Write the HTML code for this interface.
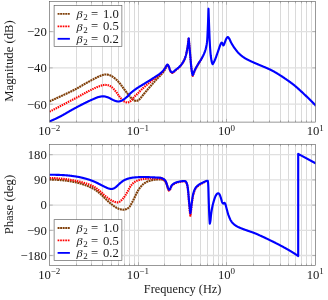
<!DOCTYPE html>
<html><head><meta charset="utf-8"><title>Bode plot</title>
<style>html,body{margin:0;padding:0;background:#fff;}body{width:328px;height:300px;position:relative;overflow:hidden;font-family:"Liberation Serif",serif;}svg{will-change:transform;}text{fill:#1a1a1a;}</style>
</head><body>
<svg width="328" height="300" viewBox="0 0 328 300" style="position:absolute;left:0;top:0;font-family:'Liberation Serif',serif">
<rect x="0" y="0" width="328" height="300" fill="#fff"/>
<path d="M76.50 1.50V122.10M91.50 1.50V122.10M102.50 1.50V122.10M111.50 1.50V122.10M118.50 1.50V122.10M124.50 1.50V122.10M129.50 1.50V122.10M134.50 1.50V122.10M164.50 1.50V122.10M180.50 1.50V122.10M191.50 1.50V122.10M200.50 1.50V122.10M207.50 1.50V122.10M213.50 1.50V122.10M218.50 1.50V122.10M222.50 1.50V122.10M253.50 1.50V122.10M269.50 1.50V122.10M280.50 1.50V122.10M288.50 1.50V122.10M295.50 1.50V122.10M301.50 1.50V122.10M306.50 1.50V122.10M311.50 1.50V122.10M138.50 1.50V122.10M226.50 1.50V122.10" stroke="#d6d6d6" stroke-width="0.9" fill="none"/>
<path d="M49.50 31.60H315.50M49.50 67.90H315.50M49.50 104.20H315.50" stroke="#e0e0e0" stroke-width="1.3" fill="none"/>
<path d="M49.50 31.60h3.2M315.50 31.60h-3.2M49.50 67.90h3.2M315.50 67.90h-3.2M49.50 104.20h3.2M315.50 104.20h-3.2" stroke="#808080" stroke-width="0.5" fill="none"/>
<path d="M138.50 122.10v-3.2M138.50 1.50v3.2M226.50 122.10v-3.2M226.50 1.50v3.2M76.50 122.10v-1.8M76.50 1.50v1.8M91.50 122.10v-1.8M91.50 1.50v1.8M102.50 122.10v-1.8M102.50 1.50v1.8M111.50 122.10v-1.8M111.50 1.50v1.8M118.50 122.10v-1.8M118.50 1.50v1.8M124.50 122.10v-1.8M124.50 1.50v1.8M129.50 122.10v-1.8M129.50 1.50v1.8M134.50 122.10v-1.8M134.50 1.50v1.8M164.50 122.10v-1.8M164.50 1.50v1.8M180.50 122.10v-1.8M180.50 1.50v1.8M191.50 122.10v-1.8M191.50 1.50v1.8M200.50 122.10v-1.8M200.50 1.50v1.8M207.50 122.10v-1.8M207.50 1.50v1.8M213.50 122.10v-1.8M213.50 1.50v1.8M218.50 122.10v-1.8M218.50 1.50v1.8M222.50 122.10v-1.8M222.50 1.50v1.8M253.50 122.10v-1.8M253.50 1.50v1.8M269.50 122.10v-1.8M269.50 1.50v1.8M280.50 122.10v-1.8M280.50 1.50v1.8M288.50 122.10v-1.8M288.50 1.50v1.8M295.50 122.10v-1.8M295.50 1.50v1.8M301.50 122.10v-1.8M301.50 1.50v1.8M306.50 122.10v-1.8M306.50 1.50v1.8M311.50 122.10v-1.8M311.50 1.50v1.8" stroke="#808080" stroke-width="0.5" fill="none"/>
<path d="M76.50 144.50V265.40M91.50 144.50V265.40M102.50 144.50V265.40M111.50 144.50V265.40M118.50 144.50V265.40M124.50 144.50V265.40M129.50 144.50V265.40M134.50 144.50V265.40M164.50 144.50V265.40M180.50 144.50V265.40M191.50 144.50V265.40M200.50 144.50V265.40M207.50 144.50V265.40M213.50 144.50V265.40M218.50 144.50V265.40M222.50 144.50V265.40M253.50 144.50V265.40M269.50 144.50V265.40M280.50 144.50V265.40M288.50 144.50V265.40M295.50 144.50V265.40M301.50 144.50V265.40M306.50 144.50V265.40M311.50 144.50V265.40M138.50 144.50V265.40M226.50 144.50V265.40" stroke="#d6d6d6" stroke-width="0.9" fill="none"/>
<path d="M49.50 154.70H315.50M49.50 179.90H315.50M49.50 205.10H315.50M49.50 230.30H315.50M49.50 255.50H315.50" stroke="#e0e0e0" stroke-width="1.3" fill="none"/>
<path d="M49.50 154.70h3.2M315.50 154.70h-3.2M49.50 179.90h3.2M315.50 179.90h-3.2M49.50 205.10h3.2M315.50 205.10h-3.2M49.50 230.30h3.2M315.50 230.30h-3.2M49.50 255.50h3.2M315.50 255.50h-3.2" stroke="#808080" stroke-width="0.5" fill="none"/>
<path d="M138.50 265.40v-3.2M138.50 144.50v3.2M226.50 265.40v-3.2M226.50 144.50v3.2M76.50 265.40v-1.8M76.50 144.50v1.8M91.50 265.40v-1.8M91.50 144.50v1.8M102.50 265.40v-1.8M102.50 144.50v1.8M111.50 265.40v-1.8M111.50 144.50v1.8M118.50 265.40v-1.8M118.50 144.50v1.8M124.50 265.40v-1.8M124.50 144.50v1.8M129.50 265.40v-1.8M129.50 144.50v1.8M134.50 265.40v-1.8M134.50 144.50v1.8M164.50 265.40v-1.8M164.50 144.50v1.8M180.50 265.40v-1.8M180.50 144.50v1.8M191.50 265.40v-1.8M191.50 144.50v1.8M200.50 265.40v-1.8M200.50 144.50v1.8M207.50 265.40v-1.8M207.50 144.50v1.8M213.50 265.40v-1.8M213.50 144.50v1.8M218.50 265.40v-1.8M218.50 144.50v1.8M222.50 265.40v-1.8M222.50 144.50v1.8M253.50 265.40v-1.8M253.50 144.50v1.8M269.50 265.40v-1.8M269.50 144.50v1.8M280.50 265.40v-1.8M280.50 144.50v1.8M288.50 265.40v-1.8M288.50 144.50v1.8M295.50 265.40v-1.8M295.50 144.50v1.8M301.50 265.40v-1.8M301.50 144.50v1.8M306.50 265.40v-1.8M306.50 144.50v1.8M311.50 265.40v-1.8M311.50 144.50v1.8" stroke="#808080" stroke-width="0.5" fill="none"/>
<defs><clipPath id="c1"><rect x="49.50" y="1.50" width="266.00" height="120.60"/></clipPath><clipPath id="c2"><rect x="49.50" y="144.50" width="266.00" height="120.90"/></clipPath></defs>
<path d="M49.50 101.40L49.75 101.29L50.00 101.17L50.25 101.06L50.50 100.94L50.75 100.83L51.01 100.72L51.26 100.60L51.51 100.49L51.76 100.37L52.01 100.26L52.26 100.14L52.51 100.03L52.76 99.92L53.01 99.80L53.26 99.69L53.51 99.57L53.76 99.46L54.02 99.34L54.27 99.23L54.52 99.11L54.77 99.00L55.02 98.88L55.27 98.77L55.52 98.66L55.77 98.54L56.02 98.43L56.27 98.31L56.52 98.20L56.77 98.08L57.03 97.97L57.28 97.85L57.53 97.74L57.78 97.62L58.03 97.51L58.28 97.39L58.53 97.28L58.78 97.16L59.03 97.04L59.28 96.93L59.53 96.81L59.78 96.70L60.04 96.58L60.29 96.47L60.54 96.35L60.79 96.24L61.04 96.12L61.29 96.01L61.54 95.89L61.79 95.78L62.04 95.66L62.29 95.55L62.54 95.43L62.80 95.32L63.05 95.21L63.30 95.09L63.55 94.98L63.80 94.86L64.05 94.75L64.30 94.63L64.55 94.51L64.80 94.40L65.05 94.28L65.30 94.17L65.55 94.05L65.81 93.93L66.06 93.82L66.31 93.70L66.56 93.58L66.81 93.46L67.06 93.35L67.31 93.23L67.56 93.11L67.81 92.99L68.06 92.87L68.31 92.75L68.56 92.63L68.82 92.51L69.07 92.39L69.32 92.27L69.57 92.15L69.82 92.03L70.07 91.91L70.32 91.79L70.57 91.67L70.82 91.55L71.07 91.43L71.32 91.31L71.57 91.19L71.83 91.06L72.08 90.94L72.33 90.82L72.58 90.70L72.83 90.57L73.08 90.45L73.33 90.32L73.58 90.20L73.83 90.07L74.08 89.95L74.33 89.82L74.59 89.69L74.84 89.56L75.09 89.43L75.34 89.31L75.59 89.17L75.84 89.04L76.09 88.91L76.34 88.78L76.59 88.64L76.84 88.51L77.09 88.37L77.34 88.23L77.60 88.09L77.85 87.95L78.10 87.81L78.35 87.67L78.60 87.53L78.85 87.38L79.10 87.24L79.35 87.09L79.60 86.94L79.85 86.80L80.10 86.65L80.35 86.50L80.61 86.35L80.86 86.20L81.11 86.06L81.36 85.91L81.61 85.76L81.86 85.61L82.11 85.46L82.36 85.31L82.61 85.16L82.86 85.01L83.11 84.86L83.36 84.72L83.62 84.57L83.87 84.42L84.12 84.27L84.37 84.13L84.62 83.98L84.87 83.84L85.12 83.70L85.37 83.55L85.62 83.41L85.87 83.27L86.12 83.13L86.38 82.99L86.63 82.85L86.88 82.71L87.13 82.57L87.38 82.44L87.63 82.30L87.88 82.16L88.13 82.02L88.38 81.88L88.63 81.75L88.88 81.61L89.13 81.47L89.39 81.33L89.64 81.20L89.89 81.06L90.14 80.93L90.39 80.79L90.64 80.66L90.89 80.52L91.14 80.39L91.39 80.26L91.64 80.12L91.89 79.99L92.14 79.86L92.40 79.73L92.65 79.60L92.90 79.47L93.15 79.34L93.40 79.21L93.65 79.08L93.90 78.95L94.15 78.82L94.40 78.69L94.65 78.57L94.90 78.44L95.15 78.31L95.41 78.18L95.66 78.05L95.91 77.92L96.16 77.79L96.41 77.66L96.66 77.54L96.91 77.41L97.16 77.29L97.41 77.16L97.66 77.04L97.91 76.92L98.17 76.80L98.42 76.68L98.67 76.57L98.92 76.46L99.17 76.35L99.42 76.24L99.67 76.13L99.92 76.03L100.17 75.93L100.42 75.83L100.67 75.73L100.92 75.63L101.18 75.53L101.43 75.43L101.68 75.34L101.93 75.25L102.18 75.16L102.43 75.08L102.68 75.00L102.93 74.93L103.18 74.87L103.43 74.81L103.68 74.76L103.93 74.72L104.19 74.67L104.44 74.62L104.69 74.58L104.94 74.55L105.19 74.52L105.44 74.51L105.69 74.50L105.94 74.50L106.19 74.51L106.44 74.53L106.69 74.55L106.94 74.57L107.20 74.60L107.45 74.64L107.70 74.67L107.95 74.71L108.20 74.75L108.45 74.79L108.70 74.84L108.95 74.90L109.20 74.98L109.45 75.06L109.70 75.16L109.96 75.26L110.21 75.37L110.46 75.48L110.71 75.59L110.96 75.72L111.21 75.85L111.46 75.98L111.71 76.13L111.96 76.28L112.21 76.44L112.46 76.60L112.71 76.77L112.97 76.95L113.22 77.13L113.47 77.31L113.72 77.50L113.97 77.69L114.22 77.88L114.47 78.08L114.72 78.28L114.97 78.48L115.22 78.68L115.47 78.89L115.72 79.11L115.98 79.33L116.23 79.56L116.48 79.80L116.73 80.04L116.98 80.29L117.23 80.54L117.48 80.79L117.73 81.05L117.98 81.32L118.23 81.59L118.48 81.86L118.73 82.14L118.99 82.42L119.24 82.70L119.49 82.99L119.74 83.28L119.99 83.58L120.24 83.89L120.49 84.21L120.74 84.54L120.99 84.87L121.24 85.21L121.49 85.55L121.75 85.90L122.00 86.25L122.25 86.60L122.50 86.95L122.75 87.30L123.00 87.65L123.25 87.99L123.50 88.33L123.75 88.67L124.00 89.00L124.25 89.33L124.50 89.66L124.76 89.99L125.01 90.32L125.26 90.65L125.51 90.98L125.76 91.31L126.01 91.64L126.26 91.97L126.51 92.29L126.76 92.62L127.01 92.94L127.26 93.26L127.51 93.58L127.77 93.89L128.02 94.21L128.27 94.52L128.52 94.82L128.77 95.13L129.02 95.44L129.27 95.75L129.52 96.06L129.77 96.37L130.02 96.67L130.27 96.97L130.52 97.27L130.78 97.55L131.03 97.83L131.28 98.09L131.53 98.34L131.78 98.57L132.03 98.81L132.28 99.04L132.53 99.27L132.78 99.49L133.03 99.70L133.28 99.89L133.54 100.06L133.79 100.20L134.04 100.31L134.29 100.42L134.54 100.51L134.79 100.61L135.04 100.69L135.29 100.77L135.54 100.83L135.79 100.87L136.04 100.90L136.29 100.90L136.55 100.88L136.80 100.84L137.05 100.78L137.30 100.70L137.55 100.61L137.80 100.52L138.05 100.41L138.30 100.30L138.55 100.16L138.80 99.96L139.05 99.73L139.30 99.46L139.56 99.19L139.81 98.91L140.06 98.64L140.31 98.37L140.56 98.09L140.81 97.80L141.06 97.50L141.31 97.19L141.56 96.88L141.81 96.57L142.06 96.25L142.31 95.93L142.57 95.61L142.82 95.29L143.07 94.98L143.32 94.67L143.57 94.36L143.82 94.06L144.07 93.76L144.32 93.46L144.57 93.16L144.82 92.86L145.07 92.56L145.33 92.26L145.58 91.96L145.83 91.67L146.08 91.37L146.33 91.08L146.58 90.78L146.83 90.49L147.08 90.19L147.33 89.90L147.58 89.60L147.83 89.31L148.08 89.02L148.34 88.73L148.59 88.43L148.84 88.14L149.09 87.85L149.34 87.56L149.59 87.27L149.84 86.98L150.09 86.69L150.34 86.40L150.59 86.11L150.84 85.83L151.09 85.54L151.35 85.25L151.60 84.96L151.85 84.67L152.10 84.39L152.35 84.10L152.60 83.81L152.85 83.52L153.10 83.24L153.35 82.95L153.60 82.66L153.85 82.37L154.10 82.08L154.36 81.80L154.61 81.51L154.86 81.23L155.11 80.94L155.36 80.66L155.61 80.38L155.86 80.10L156.11 79.82L156.36 79.55L156.61 79.28L156.86 79.01L157.12 78.74L157.37 78.48L157.62 78.23L157.87 77.97L158.12 77.72L158.37 77.46L158.62 77.21L158.87 76.96L159.12 76.70L159.37 76.45L159.62 76.19L159.87 75.93L160.13 75.66L160.38 75.39L160.63 75.12L160.88 74.84L161.13 74.55L161.38 74.27L161.63 73.99L161.88 73.70L162.13 73.41L162.38 73.12L162.63 72.82L162.88 72.51L163.14 72.19L163.39 71.86L163.64 71.52L163.89 71.16L164.14 70.79L164.39 70.37L164.64 69.91L164.89 69.44L165.14 68.95L165.39 68.45L165.64 67.97L165.89 67.50L166.15 67.05L166.40 66.65L166.65 66.26L166.90 65.89L167.15 65.54L167.40 65.20" stroke="#80400a" stroke-width="2.15" fill="none" stroke-linejoin="round" stroke-dasharray="1.95 0.6" clip-path="url(#c1)"/>
<path d="M49.50 111.60L49.75 111.48L50.00 111.35L50.25 111.23L50.50 111.10L50.75 110.98L51.01 110.85L51.26 110.73L51.51 110.60L51.76 110.48L52.01 110.35L52.26 110.23L52.51 110.10L52.76 109.98L53.01 109.85L53.26 109.72L53.51 109.60L53.76 109.47L54.02 109.35L54.27 109.22L54.52 109.09L54.77 108.97L55.02 108.84L55.27 108.71L55.52 108.59L55.77 108.46L56.02 108.33L56.27 108.20L56.52 108.08L56.77 107.95L57.03 107.82L57.28 107.69L57.53 107.57L57.78 107.44L58.03 107.31L58.28 107.18L58.53 107.05L58.78 106.93L59.03 106.80L59.28 106.67L59.53 106.54L59.78 106.41L60.04 106.28L60.29 106.15L60.54 106.02L60.79 105.89L61.04 105.76L61.29 105.63L61.54 105.50L61.79 105.37L62.04 105.24L62.29 105.11L62.54 104.98L62.80 104.85L63.05 104.71L63.30 104.58L63.55 104.45L63.80 104.32L64.05 104.19L64.30 104.05L64.55 103.92L64.80 103.79L65.05 103.66L65.30 103.52L65.55 103.39L65.81 103.26L66.06 103.12L66.31 102.99L66.56 102.86L66.81 102.73L67.06 102.59L67.31 102.46L67.56 102.33L67.81 102.19L68.06 102.06L68.31 101.93L68.56 101.80L68.82 101.66L69.07 101.53L69.32 101.40L69.57 101.27L69.82 101.14L70.07 101.01L70.32 100.87L70.57 100.74L70.82 100.61L71.07 100.48L71.32 100.35L71.57 100.22L71.83 100.09L72.08 99.96L72.33 99.83L72.58 99.70L72.83 99.57L73.08 99.45L73.33 99.32L73.58 99.19L73.83 99.06L74.08 98.94L74.33 98.81L74.59 98.68L74.84 98.56L75.09 98.43L75.34 98.30L75.59 98.17L75.84 98.04L76.09 97.91L76.34 97.78L76.59 97.65L76.84 97.51L77.09 97.38L77.34 97.25L77.60 97.11L77.85 96.98L78.10 96.84L78.35 96.71L78.60 96.57L78.85 96.43L79.10 96.30L79.35 96.16L79.60 96.02L79.85 95.88L80.10 95.75L80.35 95.61L80.61 95.47L80.86 95.33L81.11 95.19L81.36 95.05L81.61 94.92L81.86 94.78L82.11 94.64L82.36 94.50L82.61 94.36L82.86 94.22L83.11 94.09L83.36 93.95L83.62 93.81L83.87 93.67L84.12 93.54L84.37 93.40L84.62 93.26L84.87 93.13L85.12 92.99L85.37 92.86L85.62 92.73L85.87 92.59L86.12 92.46L86.38 92.33L86.63 92.19L86.88 92.06L87.13 91.93L87.38 91.80L87.63 91.67L87.88 91.54L88.13 91.41L88.38 91.28L88.63 91.15L88.88 91.02L89.13 90.89L89.39 90.76L89.64 90.63L89.89 90.51L90.14 90.38L90.39 90.25L90.64 90.12L90.89 90.00L91.14 89.87L91.39 89.74L91.64 89.62L91.89 89.50L92.14 89.37L92.40 89.25L92.65 89.13L92.90 89.01L93.15 88.89L93.40 88.78L93.65 88.66L93.90 88.55L94.15 88.43L94.40 88.32L94.65 88.20L94.90 88.09L95.15 87.98L95.41 87.87L95.66 87.75L95.91 87.64L96.16 87.53L96.41 87.42L96.66 87.31L96.91 87.20L97.16 87.10L97.41 86.99L97.66 86.89L97.91 86.79L98.17 86.68L98.42 86.59L98.67 86.49L98.92 86.39L99.17 86.30L99.42 86.20L99.67 86.11L99.92 86.03L100.17 85.94L100.42 85.85L100.67 85.76L100.92 85.68L101.18 85.59L101.43 85.51L101.68 85.43L101.93 85.35L102.18 85.28L102.43 85.22L102.68 85.16L102.93 85.11L103.18 85.07L103.43 85.03L103.68 84.99L103.93 84.95L104.19 84.93L104.44 84.91L104.69 84.90L104.94 84.90L105.19 84.91L105.44 84.92L105.69 84.93L105.94 84.95L106.19 84.97L106.44 84.99L106.69 85.01L106.94 85.04L107.20 85.06L107.45 85.09L107.70 85.13L107.95 85.18L108.20 85.25L108.45 85.33L108.70 85.42L108.95 85.52L109.20 85.63L109.45 85.75L109.70 85.88L109.96 86.01L110.21 86.14L110.46 86.28L110.71 86.42L110.96 86.58L111.21 86.75L111.46 86.94L111.71 87.14L111.96 87.35L112.21 87.57L112.46 87.81L112.71 88.05L112.97 88.30L113.22 88.56L113.47 88.82L113.72 89.09L113.97 89.36L114.22 89.64L114.47 89.91L114.72 90.19L114.97 90.47L115.22 90.75L115.47 91.05L115.72 91.37L115.98 91.69L116.23 92.03L116.48 92.38L116.73 92.73L116.98 93.09L117.23 93.45L117.48 93.81L117.73 94.18L117.98 94.54L118.23 94.90L118.48 95.25L118.73 95.60L118.99 95.94L119.24 96.27L119.49 96.58L119.74 96.90L119.99 97.21L120.24 97.53L120.49 97.85L120.74 98.17L120.99 98.49L121.24 98.80L121.49 99.10L121.75 99.40L122.00 99.68L122.25 99.95L122.50 100.20L122.75 100.43L123.00 100.64L123.25 100.84L123.50 101.02L123.75 101.19L124.00 101.36L124.25 101.51L124.50 101.66L124.76 101.79L125.01 101.91L125.26 102.02L125.51 102.10L125.76 102.18L126.01 102.26L126.26 102.33L126.51 102.40L126.76 102.45L127.01 102.48L127.26 102.50L127.51 102.49L127.77 102.46L128.02 102.41L128.27 102.34L128.52 102.26L128.77 102.18L129.02 102.09L129.27 101.99L129.52 101.86L129.77 101.70L130.02 101.53L130.27 101.34L130.52 101.14L130.78 100.94L131.03 100.71L131.28 100.47L131.53 100.20L131.78 99.91L132.03 99.61L132.28 99.30L132.53 98.98L132.78 98.66L133.03 98.35L133.28 98.03L133.54 97.73L133.79 97.44L134.04 97.16L134.29 96.89L134.54 96.63L134.79 96.37L135.04 96.11L135.29 95.86L135.54 95.61L135.79 95.36L136.04 95.11L136.29 94.86L136.55 94.62L136.80 94.37L137.05 94.13L137.30 93.88L137.55 93.64L137.80 93.39L138.05 93.15L138.30 92.90L138.55 92.65L138.80 92.40L139.05 92.14L139.30 91.89L139.56 91.63L139.81 91.38L140.06 91.12L140.31 90.86L140.56 90.61L140.81 90.35L141.06 90.10L141.31 89.84L141.56 89.59L141.81 89.34L142.06 89.10L142.31 88.85L142.57 88.61L142.82 88.37L143.07 88.14L143.32 87.91L143.57 87.67L143.82 87.45L144.07 87.22L144.32 86.99L144.57 86.77L144.82 86.55L145.07 86.33L145.33 86.11L145.58 85.89L145.83 85.67L146.08 85.46L146.33 85.24L146.58 85.03L146.83 84.82L147.08 84.61L147.33 84.39L147.58 84.18L147.83 83.97L148.08 83.76L148.34 83.55L148.59 83.34L148.84 83.14L149.09 82.93L149.34 82.72L149.59 82.51L149.84 82.31L150.09 82.10L150.34 81.90L150.59 81.70L150.84 81.49L151.09 81.29L151.35 81.09L151.60 80.89L151.85 80.69L152.10 80.49L152.35 80.29L152.60 80.09L152.85 79.90L153.10 79.70L153.35 79.50L153.60 79.30L153.85 79.10L154.10 78.91L154.36 78.71L154.61 78.51L154.86 78.31L155.11 78.11L155.36 77.92L155.61 77.73L155.86 77.54L156.11 77.35L156.36 77.17L156.61 76.98L156.86 76.80L157.12 76.62L157.37 76.43L157.62 76.25L157.87 76.07L158.12 75.88L158.37 75.69L158.62 75.50L158.87 75.31L159.12 75.12L159.37 74.92L159.62 74.71L159.87 74.50L160.13 74.29L160.38 74.07L160.63 73.85L160.88 73.62L161.13 73.38L161.38 73.13L161.63 72.88L161.88 72.63L162.13 72.37L162.38 72.10L162.63 71.82L162.88 71.53L163.14 71.24L163.39 70.94L163.64 70.63L163.89 70.31L164.14 69.98L164.39 69.64L164.64 69.28L164.89 68.91L165.14 68.47L165.39 68.01L165.64 67.53L165.89 67.07L166.15 66.64L166.40 66.26L166.65 65.91L166.90 65.59L167.15 65.28L167.40 65.00M149.00 81.57L149.25 81.42L149.51 81.26L149.76 81.10L150.01 80.94L150.26 80.78L150.52 80.62L150.77 80.46L151.02 80.30L151.28 80.14L151.53 79.97L151.78 79.81L152.03 79.64L152.29 79.48L152.54 79.31L152.79 79.15L153.05 78.98L153.30 78.81L153.55 78.64L153.80 78.47L154.06 78.30L154.31 78.13L154.56 77.96L154.82 77.79L155.07 77.61L155.32 77.44L155.57 77.27L155.83 77.10L156.08 76.94L156.33 76.77L156.59 76.60L156.84 76.44L157.09 76.27L157.34 76.10L157.60 75.93L157.85 75.76L158.10 75.59L158.36 75.41L158.61 75.23L158.86 75.05L159.11 74.87L159.37 74.68L159.62 74.48L159.87 74.29L160.13 74.08L160.38 73.87L160.63 73.66L160.88 73.44L161.14 73.21L161.39 72.97L161.64 72.73L161.90 72.48L162.15 72.22L162.40 71.96L162.65 71.68L162.91 71.40L163.16 71.10L163.41 70.80L163.67 70.49L163.92 70.17L164.17 69.84L164.42 69.49L164.68 69.14L164.93 68.76L165.18 68.32L165.44 67.85L165.69 67.38L165.94 66.92L166.19 66.49L166.45 66.09L166.70 65.66L166.95 65.25L167.21 64.96L167.46 64.89L167.71 65.03L167.96 65.31L168.22 65.68L168.47 66.08L168.72 66.56L168.98 67.23L169.23 68.02L169.48 68.86L169.74 69.67L169.99 70.39L170.24 70.94L170.49 71.41L170.75 71.85L171.00 72.21L171.25 72.47L171.51 72.65L171.76 72.80L172.01 72.90L172.26 72.92L172.52 72.85L172.77 72.72L173.02 72.55L173.28 72.36L173.53 72.18L173.78 72.00L174.03 71.79L174.29 71.57L174.54 71.34L174.79 71.10L175.05 70.86L175.30 70.63L175.55 70.41L175.80 70.19L176.06 69.98L176.31 69.77L176.56 69.57L176.82 69.37L177.07 69.16L177.32 68.96L177.57 68.76L177.83 68.56L178.08 68.35L178.33 68.13L178.59 67.92L178.84 67.69L179.09 67.46L179.34 67.21L179.60 66.96L179.85 66.70L180.10 66.42L180.36 66.14L180.61 65.85L180.86 65.54L181.11 65.23L181.37 64.90L181.62 64.56L181.87 64.21L182.13 63.84L182.38 63.46L182.63 63.06L182.88 62.65L183.14 62.21L183.39 61.76L183.64 61.29L183.90 60.79L184.15 60.26L184.40 59.69L184.65 59.08L184.91 58.42L185.16 57.72L185.41 56.96L185.67 56.16L185.92 55.29L186.17 54.34L186.42 53.25L186.68 52.01L186.93 50.66L187.18 49.21L187.44 47.68L187.69 46.04L187.94 44.22L188.19 42.24L188.45 40.13L188.70 37.90L188.97 40.93L189.25 43.99L189.52 47.11L189.79 50.29L190.07 53.47L190.34 56.62L190.61 59.90L190.89 63.13L191.16 66.12L191.43 68.67L191.71 70.95L191.98 72.91L192.25 74.27L192.53 75.23L192.80 75.81L193.06 75.15L193.31 74.48L193.57 73.82L193.83 73.13L194.09 72.43L194.34 71.74L194.60 71.09L194.86 70.51L195.12 69.95L195.37 69.42L195.63 68.90L195.89 68.40L196.15 67.91L196.40 67.43L196.66 66.97L196.92 66.51L197.18 66.06L197.43 65.61L197.69 65.16L197.95 64.72L198.20 64.27L198.46 63.82L198.72 63.37L198.98 62.94L199.23 62.52L199.49 62.10L199.75 61.70L200.01 61.29L200.26 60.89L200.52 60.48L200.78 60.07L201.04 59.65L201.29 59.22L201.55 58.78L201.81 58.32L202.07 57.84L202.32 57.33L202.58 56.83L202.84 56.31" stroke="#ff0000" stroke-width="2.15" fill="none" stroke-linejoin="round" stroke-dasharray="1.45 0.85" clip-path="url(#c1)"/>
<path d="M49.50 121.40L49.75 121.30L50.00 121.20L50.25 121.09L50.50 120.99L50.75 120.88L51.00 120.78L51.25 120.67L51.51 120.57L51.76 120.46L52.01 120.35L52.26 120.24L52.51 120.13L52.76 120.02L53.01 119.91L53.26 119.80L53.51 119.69L53.76 119.58L54.01 119.47L54.26 119.35L54.51 119.24L54.76 119.12L55.01 119.01L55.26 118.89L55.52 118.78L55.77 118.66L56.02 118.54L56.27 118.42L56.52 118.31L56.77 118.19L57.02 118.07L57.27 117.95L57.52 117.83L57.77 117.70L58.02 117.58L58.27 117.46L58.52 117.34L58.77 117.21L59.02 117.09L59.27 116.96L59.53 116.84L59.78 116.71L60.03 116.59L60.28 116.46L60.53 116.33L60.78 116.20L61.03 116.07L61.28 115.94L61.53 115.80L61.78 115.67L62.03 115.53L62.28 115.39L62.53 115.26L62.78 115.12L63.03 114.98L63.28 114.84L63.54 114.69L63.79 114.55L64.04 114.41L64.29 114.26L64.54 114.12L64.79 113.98L65.04 113.83L65.29 113.68L65.54 113.54L65.79 113.39L66.04 113.24L66.29 113.10L66.54 112.95L66.79 112.80L67.04 112.66L67.29 112.51L67.55 112.36L67.80 112.21L68.05 112.07L68.30 111.92L68.55 111.77L68.80 111.63L69.05 111.48L69.30 111.33L69.55 111.19L69.80 111.04L70.05 110.90L70.30 110.75L70.55 110.61L70.80 110.47L71.05 110.33L71.30 110.19L71.56 110.05L71.81 109.91L72.06 109.77L72.31 109.63L72.56 109.49L72.81 109.36L73.06 109.22L73.31 109.08L73.56 108.94L73.81 108.81L74.06 108.67L74.31 108.53L74.56 108.40L74.81 108.26L75.06 108.12L75.31 107.99L75.57 107.85L75.82 107.72L76.07 107.58L76.32 107.45L76.57 107.31L76.82 107.18L77.07 107.04L77.32 106.91L77.57 106.78L77.82 106.64L78.07 106.51L78.32 106.38L78.57 106.25L78.82 106.11L79.07 105.98L79.32 105.85L79.58 105.72L79.83 105.59L80.08 105.46L80.33 105.33L80.58 105.20L80.83 105.07L81.08 104.94L81.33 104.81L81.58 104.69L81.83 104.56L82.08 104.43L82.33 104.30L82.58 104.18L82.83 104.05L83.08 103.92L83.34 103.80L83.59 103.67L83.84 103.54L84.09 103.42L84.34 103.29L84.59 103.17L84.84 103.04L85.09 102.92L85.34 102.80L85.59 102.67L85.84 102.55L86.09 102.43L86.34 102.30L86.59 102.18L86.84 102.06L87.09 101.94L87.35 101.82L87.60 101.69L87.85 101.57L88.10 101.45L88.35 101.33L88.60 101.21L88.85 101.09L89.10 100.98L89.35 100.86L89.60 100.74L89.85 100.62L90.10 100.51L90.35 100.39L90.60 100.28L90.85 100.17L91.10 100.05L91.36 99.94L91.61 99.83L91.86 99.72L92.11 99.61L92.36 99.50L92.61 99.39L92.86 99.28L93.11 99.17L93.36 99.07L93.61 98.96L93.86 98.86L94.11 98.75L94.36 98.65L94.61 98.54L94.86 98.43L95.11 98.32L95.37 98.21L95.62 98.10L95.87 97.99L96.12 97.89L96.37 97.78L96.62 97.67L96.87 97.57L97.12 97.47L97.37 97.38L97.62 97.29L97.87 97.21L98.12 97.13L98.37 97.05L98.62 96.99L98.87 96.93L99.12 96.87L99.38 96.82L99.63 96.77L99.88 96.72L100.13 96.67L100.38 96.62L100.63 96.57L100.88 96.53L101.13 96.49L101.38 96.45L101.63 96.41L101.88 96.38L102.13 96.36L102.38 96.33L102.63 96.32L102.88 96.31L103.13 96.30L103.39 96.30L103.64 96.31L103.89 96.33L104.14 96.36L104.39 96.40L104.64 96.44L104.89 96.49L105.14 96.55L105.39 96.61L105.64 96.67L105.89 96.74L106.14 96.81L106.39 96.89L106.64 96.96L106.89 97.04L107.14 97.12L107.40 97.21L107.65 97.29L107.90 97.37L108.15 97.45L108.40 97.54L108.65 97.64L108.90 97.75L109.15 97.87L109.40 98.00L109.65 98.13L109.90 98.27L110.15 98.41L110.40 98.56L110.65 98.70L110.90 98.85L111.15 98.99L111.41 99.14L111.66 99.28L111.91 99.41L112.16 99.54L112.41 99.67L112.66 99.78L112.91 99.89L113.16 100.01L113.41 100.12L113.66 100.23L113.91 100.34L114.16 100.45L114.41 100.56L114.66 100.66L114.91 100.76L115.16 100.85L115.42 100.93L115.67 101.01L115.92 101.08L116.17 101.14L116.42 101.20L116.67 101.27L116.92 101.33L117.17 101.38L117.42 101.43L117.67 101.47L117.92 101.49L118.17 101.50L118.42 101.49L118.67 101.48L118.92 101.45L119.18 101.41L119.43 101.36L119.68 101.30L119.93 101.24L120.18 101.18L120.43 101.12L120.68 101.05L120.93 100.97L121.18 100.87L121.43 100.76L121.68 100.63L121.93 100.51L122.18 100.37L122.43 100.24L122.68 100.10L122.93 99.95L123.19 99.79L123.44 99.63L123.69 99.46L123.94 99.29L124.19 99.11L124.44 98.92L124.69 98.73L124.94 98.53L125.19 98.33L125.44 98.12L125.69 97.92L125.94 97.71L126.19 97.49L126.44 97.28L126.69 97.06L126.94 96.85L127.20 96.63L127.45 96.40L127.70 96.16L127.95 95.91L128.20 95.65L128.45 95.39L128.70 95.13L128.95 94.86L129.20 94.59L129.45 94.33L129.70 94.06L129.95 93.80L130.20 93.55L130.45 93.30L130.70 93.07L130.95 92.84L131.21 92.62L131.46 92.41L131.71 92.19L131.96 91.98L132.21 91.77L132.46 91.57L132.71 91.37L132.96 91.16L133.21 90.97L133.46 90.77L133.71 90.58L133.96 90.38L134.21 90.19L134.46 90.01L134.71 89.82L134.96 89.64L135.22 89.45L135.47 89.27L135.72 89.09L135.97 88.92L136.22 88.74L136.47 88.57L136.72 88.39L136.97 88.22L137.22 88.05L137.47 87.88L137.72 87.72L137.97 87.55L138.22 87.39L138.47 87.24L138.72 87.08L138.97 86.92L139.23 86.77L139.48 86.62L139.73 86.46L139.98 86.31L140.23 86.16L140.48 86.01L140.73 85.86L140.98 85.72L141.23 85.57L141.48 85.42L141.73 85.27L141.98 85.12L142.23 84.97L142.48 84.82L142.73 84.66L142.98 84.51L143.24 84.35L143.49 84.20L143.74 84.05L143.99 83.89L144.24 83.74L144.49 83.58L144.74 83.43L144.99 83.27L145.24 83.12L145.49 82.96L145.74 82.81L145.99 82.65L146.24 82.50L146.49 82.35L146.74 82.19L146.99 82.04L147.25 81.88L147.50 81.73L147.75 81.57L148.00 81.42L148.25 81.26L148.50 81.11L148.75 80.95L149.00 80.80L149.25 80.65L149.51 80.50L149.76 80.34L150.01 80.19L150.26 80.03L150.52 79.88L150.77 79.72L151.02 79.56L151.28 79.40L151.53 79.25L151.78 79.09L152.03 78.93L152.29 78.77L152.54 78.60L152.79 78.44L153.05 78.28L153.30 78.12L153.55 77.95L153.80 77.79L154.06 77.62L154.31 77.46L154.56 77.29L154.82 77.12L155.07 76.95L155.32 76.79L155.57 76.62L155.83 76.46L156.08 76.30L156.33 76.14L156.59 75.97L156.84 75.81L157.09 75.65L157.34 75.49L157.60 75.32L157.85 75.16L158.10 74.99L158.36 74.82L158.61 74.64L158.86 74.47L159.11 74.29L159.37 74.10L159.62 73.92L159.87 73.72L160.13 73.53L160.38 73.32L160.63 73.11L160.88 72.90L161.14 72.68L161.39 72.45L161.64 72.21L161.90 71.97L162.15 71.72L162.40 71.46L162.65 71.19L162.91 70.92L163.16 70.63L163.41 70.34L163.67 70.04L163.92 69.73L164.17 69.40L164.42 69.07L164.68 68.73L164.93 68.36L165.18 67.93L165.44 67.48L165.69 67.02L165.94 66.57L166.19 66.16L166.45 65.77L166.70 65.35L166.95 64.95L167.21 64.67L167.46 64.61L167.71 64.74L167.96 65.01L168.22 65.37L168.47 65.76L168.72 66.22L168.98 66.88L169.23 67.64L169.48 68.45L169.74 69.24L169.99 69.94L170.24 70.48L170.49 70.93L170.75 71.36L171.00 71.71L171.25 71.97L171.51 72.13L171.76 72.28L172.01 72.38L172.26 72.40L172.52 72.33L172.77 72.21L173.02 72.04L173.28 71.86L173.53 71.68L173.78 71.50L174.03 71.30L174.29 71.09L174.54 70.86L174.79 70.63L175.05 70.40L175.30 70.17L175.55 69.96L175.80 69.75L176.06 69.54L176.31 69.34L176.56 69.14L176.82 68.95L177.07 68.75L177.32 68.56L177.57 68.36L177.83 68.16L178.08 67.96L178.33 67.75L178.59 67.54L178.84 67.32L179.09 67.09L179.34 66.86L179.60 66.61L179.85 66.36L180.10 66.09L180.36 65.81L180.61 65.53L180.86 65.23L181.11 64.93L181.37 64.61L181.62 64.28L181.87 63.94L182.13 63.59L182.38 63.22L182.63 62.83L182.88 62.43L183.14 62.00L183.39 61.57L183.64 61.11L183.90 60.62L184.15 60.11L184.40 59.55L184.65 58.96L184.91 58.32L185.16 57.64L185.41 56.91L185.67 56.12L185.92 55.28L186.17 54.36L186.42 53.30L186.68 52.10L186.93 50.79L187.18 49.38L187.44 47.89L187.69 46.30L187.94 44.54L188.19 42.62L188.45 40.56L188.70 38.40L188.97 41.34L189.25 44.31L189.52 47.34L189.79 50.42L190.07 53.51L190.34 56.58L190.61 59.75L190.89 62.89L191.16 65.80L191.43 68.28L191.71 70.49L191.98 72.39L192.25 73.71L192.53 74.64L192.80 75.20L193.06 74.56L193.31 73.92L193.57 73.27L193.83 72.61L194.09 71.92L194.34 71.25L194.60 70.62L194.86 70.06L195.12 69.52L195.37 69.00L195.63 68.49L195.89 68.01L196.15 67.53L196.40 67.07L196.66 66.62L196.92 66.17L197.18 65.74L197.43 65.30L197.69 64.87L197.95 64.44L198.20 64.00L198.46 63.56L198.72 63.13L198.98 62.71L199.23 62.30L199.49 61.90L199.75 61.50L200.01 61.11L200.26 60.72L200.52 60.32L200.78 59.93L201.04 59.52L201.29 59.10L201.55 58.67L201.81 58.22L202.07 57.75L202.32 57.27L202.58 56.77L202.84 56.28L203.10 55.77L203.35 55.24L203.61 54.70L203.87 54.14L204.12 53.55L204.38 52.92L204.64 52.27L204.90 51.57L205.15 50.84L205.41 50.04L205.67 49.16L205.93 48.16L206.18 47.05L206.44 45.79L206.70 44.41L206.96 42.69L207.21 40.36L207.47 36.17L207.73 30.24L207.99 23.87L208.24 16.73L208.50 8.70L208.78 17.11L209.06 24.94L209.34 32.43L209.62 39.40L209.90 44.69L210.18 48.99L210.46 52.61L210.74 55.49L211.02 57.71L211.30 59.60L211.58 61.11L211.86 62.21L212.14 63.10L212.42 63.80L212.70 64.20L212.95 63.78L213.20 63.34L213.45 62.88L213.70 62.40L213.95 61.92L214.20 61.42L214.46 60.90L214.71 60.36L214.96 59.80L215.21 59.21L215.46 58.59L215.71 57.94L215.96 57.28L216.21 56.59L216.46 55.89L216.71 55.18L216.96 54.46L217.21 53.74L217.46 53.02L217.71 52.31L217.97 51.60L218.22 50.88L218.47 50.15L218.72 49.40L218.97 48.65L219.22 47.90L219.47 47.17L219.72 46.46L219.97 45.78L220.22 45.15L220.47 44.50L220.72 43.89L220.97 43.38L221.22 43.05L221.48 42.77L221.73 42.61L221.98 42.68L222.23 42.98L222.48 43.39L222.73 43.88L222.98 44.65L223.23 45.33L223.48 45.47L223.73 45.13L223.98 44.63L224.23 44.10L224.48 43.46L224.73 42.73L224.99 41.99L225.24 41.27L225.49 40.63L225.74 40.03L225.99 39.43L226.24 38.86L226.49 38.36L226.74 37.97L226.99 37.68L227.24 37.41L227.49 37.21L227.74 37.10L227.99 37.15L228.25 37.34L228.50 37.62L228.75 37.96L229.00 38.30L229.25 38.66L229.50 39.11L229.75 39.60L230.00 40.14L230.25 40.70L230.50 41.27L230.75 41.81L231.00 42.33L231.25 42.80L231.50 43.24L231.76 43.68L232.01 44.11L232.26 44.53L232.51 44.95L232.76 45.36L233.01 45.76L233.26 46.16L233.51 46.54L233.76 46.93L234.01 47.30L234.26 47.67L234.51 48.03L234.76 48.38L235.01 48.72L235.27 49.06L235.52 49.39L235.77 49.72L236.02 50.05L236.27 50.37L236.52 50.69L236.77 51.01L237.02 51.31L237.27 51.62L237.52 51.91L237.77 52.20L238.02 52.49L238.27 52.76L238.52 53.03L238.78 53.29L239.03 53.55L239.28 53.79L239.53 54.03L239.78 54.26L240.03 54.48L240.28 54.70L240.53 54.92L240.78 55.13L241.03 55.34L241.28 55.55L241.53 55.75L241.78 55.95L242.04 56.14L242.29 56.33L242.54 56.52L242.79 56.71L243.04 56.89L243.29 57.06L243.54 57.24L243.79 57.41L244.04 57.58L244.29 57.74L244.54 57.91L244.79 58.07L245.04 58.22L245.29 58.38L245.55 58.53L245.80 58.68L246.05 58.82L246.30 58.96L246.55 59.10L246.80 59.24L247.05 59.38L247.30 59.51L247.55 59.64L247.80 59.77L248.05 59.90L248.30 60.02L248.55 60.15L248.80 60.27L249.06 60.39L249.31 60.51L249.56 60.63L249.81 60.74L250.06 60.86L250.31 60.97L250.56 61.09L250.81 61.20L251.06 61.32L251.31 61.43L251.56 61.55L251.81 61.66L252.06 61.77L252.32 61.89L252.57 62.00L252.82 62.12L253.07 62.23L253.32 62.35L253.57 62.46L253.82 62.57L254.07 62.68L254.32 62.80L254.57 62.91L254.82 63.02L255.07 63.13L255.32 63.24L255.57 63.34L255.83 63.45L256.08 63.56L256.33 63.67L256.58 63.77L256.83 63.88L257.08 63.99L257.33 64.09L257.58 64.20L257.83 64.30L258.08 64.41L258.33 64.52L258.58 64.62L258.83 64.73L259.08 64.84L259.34 64.94L259.59 65.05L259.84 65.15L260.09 65.26L260.34 65.36L260.59 65.46L260.84 65.57L261.09 65.67L261.34 65.77L261.59 65.87L261.84 65.98L262.09 66.08L262.34 66.18L262.59 66.29L262.85 66.39L263.10 66.49L263.35 66.60L263.60 66.70L263.85 66.81L264.10 66.91L264.35 67.02L264.60 67.13L264.85 67.24L265.10 67.34L265.35 67.45L265.60 67.56L265.85 67.67L266.11 67.78L266.36 67.89L266.61 68.00L266.86 68.11L267.11 68.22L267.36 68.33L267.61 68.44L267.86 68.55L268.11 68.66L268.36 68.77L268.61 68.88L268.86 68.99L269.11 69.11L269.36 69.22L269.62 69.34L269.87 69.46L270.12 69.57L270.37 69.69L270.62 69.81L270.87 69.93L271.12 70.06L271.37 70.18L271.62 70.31L271.87 70.43L272.12 70.56L272.37 70.69L272.62 70.83L272.87 70.96L273.13 71.10L273.38 71.23L273.63 71.37L273.88 71.51L274.13 71.65L274.38 71.79L274.63 71.94L274.88 72.08L275.13 72.23L275.38 72.38L275.63 72.52L275.88 72.67L276.13 72.82L276.38 72.97L276.64 73.13L276.89 73.28L277.14 73.43L277.39 73.59L277.64 73.74L277.89 73.90L278.14 74.05L278.39 74.21L278.64 74.37L278.89 74.52L279.14 74.68L279.39 74.84L279.64 75.00L279.90 75.15L280.15 75.31L280.40 75.47L280.65 75.63L280.90 75.79L281.15 75.95L281.40 76.11L281.65 76.27L281.90 76.43L282.15 76.60L282.40 76.76L282.65 76.93L282.90 77.09L283.15 77.26L283.41 77.43L283.66 77.59L283.91 77.76L284.16 77.93L284.41 78.10L284.66 78.27L284.91 78.44L285.16 78.62L285.41 78.79L285.66 78.96L285.91 79.13L286.16 79.31L286.41 79.48L286.66 79.66L286.92 79.83L287.17 80.01L287.42 80.19L287.67 80.36L287.92 80.54L288.17 80.72L288.42 80.90L288.67 81.08L288.92 81.26L289.17 81.43L289.42 81.61L289.67 81.79L289.92 81.97L290.18 82.16L290.43 82.34L290.68 82.52L290.93 82.70L291.18 82.89L291.43 83.07L291.68 83.26L291.93 83.44L292.18 83.63L292.43 83.82L292.68 84.01L292.93 84.20L293.18 84.40L293.43 84.59L293.69 84.79L293.94 84.99L294.19 85.19L294.44 85.39L294.69 85.59L294.94 85.80L295.19 86.00L295.44 86.21L295.69 86.43L295.94 86.64L296.19 86.86L296.44 87.08L296.69 87.30L296.94 87.52L297.20 87.75L297.45 87.97L297.70 88.20L297.95 88.43L298.20 88.65L298.45 88.88L298.70 89.11L298.95 89.34L299.20 89.57L299.45 89.80L299.70 90.03L299.95 90.26L300.20 90.49L300.45 90.71L300.71 90.94L300.96 91.17L301.21 91.40L301.46 91.64L301.71 91.87L301.96 92.10L302.21 92.33L302.46 92.56L302.71 92.80L302.96 93.03L303.21 93.27L303.46 93.50L303.71 93.74L303.97 93.97L304.22 94.21L304.47 94.45L304.72 94.68L304.97 94.92L305.22 95.16L305.47 95.40L305.72 95.64L305.97 95.88L306.22 96.12L306.47 96.36L306.72 96.60L306.97 96.84L307.22 97.08L307.48 97.33L307.73 97.57L307.98 97.81L308.23 98.06L308.48 98.30L308.73 98.55L308.98 98.80L309.23 99.04L309.48 99.29L309.73 99.54L309.98 99.79L310.23 100.04L310.48 100.29L310.73 100.54L310.99 100.79L311.24 101.04L311.49 101.29L311.74 101.54L311.99 101.79L312.24 102.04L312.49 102.30L312.74 102.55L312.99 102.81L313.24 103.06L313.49 103.32L313.74 103.57L313.99 103.83L314.24 104.09L314.50 104.34L314.75 104.60L315.00 104.86L315.25 105.12L315.50 105.38L315.75 105.64L316.00 105.90" stroke="#0000ff" stroke-width="2.15" fill="none" stroke-linejoin="round" clip-path="url(#c1)"/>
<path d="M49.50 179.50L49.75 179.50L50.00 179.51L50.25 179.51L50.50 179.51L50.75 179.52L51.01 179.52L51.26 179.53L51.51 179.54L51.76 179.54L52.01 179.55L52.26 179.56L52.51 179.57L52.76 179.58L53.01 179.59L53.26 179.60L53.52 179.61L53.77 179.62L54.02 179.64L54.27 179.65L54.52 179.66L54.77 179.68L55.02 179.69L55.27 179.70L55.52 179.72L55.77 179.74L56.02 179.75L56.28 179.77L56.53 179.78L56.78 179.80L57.03 179.82L57.28 179.84L57.53 179.85L57.78 179.87L58.03 179.89L58.28 179.91L58.53 179.93L58.78 179.95L59.04 179.97L59.29 179.99L59.54 180.01L59.79 180.03L60.04 180.05L60.29 180.07L60.54 180.09L60.79 180.11L61.04 180.13L61.29 180.15L61.55 180.17L61.80 180.20L62.05 180.22L62.30 180.24L62.55 180.26L62.80 180.28L63.05 180.30L63.30 180.33L63.55 180.35L63.80 180.37L64.05 180.40L64.31 180.43L64.56 180.45L64.81 180.48L65.06 180.51L65.31 180.54L65.56 180.57L65.81 180.60L66.06 180.63L66.31 180.66L66.56 180.70L66.82 180.73L67.07 180.77L67.32 180.80L67.57 180.84L67.82 180.88L68.07 180.91L68.32 180.95L68.57 180.99L68.82 181.03L69.07 181.07L69.32 181.11L69.58 181.15L69.83 181.20L70.08 181.24L70.33 181.28L70.58 181.33L70.83 181.37L71.08 181.42L71.33 181.46L71.58 181.51L71.83 181.55L72.08 181.60L72.34 181.65L72.59 181.70L72.84 181.75L73.09 181.80L73.34 181.84L73.59 181.89L73.84 181.94L74.09 182.00L74.34 182.05L74.59 182.10L74.85 182.15L75.10 182.20L75.35 182.25L75.60 182.31L75.85 182.36L76.10 182.41L76.35 182.47L76.60 182.52L76.85 182.58L77.10 182.63L77.35 182.69L77.61 182.75L77.86 182.81L78.11 182.88L78.36 182.94L78.61 183.01L78.86 183.07L79.11 183.14L79.36 183.21L79.61 183.28L79.86 183.35L80.12 183.42L80.37 183.50L80.62 183.57L80.87 183.65L81.12 183.72L81.37 183.80L81.62 183.88L81.87 183.96L82.12 184.04L82.37 184.12L82.62 184.20L82.88 184.29L83.13 184.37L83.38 184.46L83.63 184.54L83.88 184.63L84.13 184.72L84.38 184.80L84.63 184.89L84.88 184.98L85.13 185.07L85.38 185.16L85.64 185.25L85.89 185.34L86.14 185.43L86.39 185.52L86.64 185.62L86.89 185.71L87.14 185.81L87.39 185.91L87.64 186.00L87.89 186.10L88.15 186.20L88.40 186.31L88.65 186.41L88.90 186.51L89.15 186.62L89.40 186.73L89.65 186.83L89.90 186.95L90.15 187.06L90.40 187.17L90.65 187.29L90.91 187.40L91.16 187.52L91.41 187.64L91.66 187.76L91.91 187.89L92.16 188.01L92.41 188.14L92.66 188.27L92.91 188.40L93.16 188.54L93.42 188.67L93.67 188.81L93.92 188.95L94.17 189.10L94.42 189.25L94.67 189.40L94.92 189.56L95.17 189.72L95.42 189.89L95.67 190.07L95.92 190.24L96.18 190.42L96.43 190.61L96.68 190.80L96.93 190.99L97.18 191.18L97.43 191.38L97.68 191.58L97.93 191.78L98.18 191.98L98.43 192.19L98.68 192.40L98.94 192.61L99.19 192.82L99.44 193.03L99.69 193.24L99.94 193.45L100.19 193.66L100.44 193.88L100.69 194.11L100.94 194.33L101.19 194.57L101.45 194.80L101.70 195.04L101.95 195.29L102.20 195.53L102.45 195.78L102.70 196.03L102.95 196.28L103.20 196.54L103.45 196.79L103.70 197.04L103.95 197.30L104.21 197.55L104.46 197.80L104.71 198.05L104.96 198.30L105.21 198.54L105.46 198.79L105.71 199.03L105.96 199.26L106.21 199.50L106.46 199.74L106.72 199.97L106.97 200.21L107.22 200.45L107.47 200.68L107.72 200.92L107.97 201.16L108.22 201.39L108.47 201.63L108.72 201.86L108.97 202.09L109.22 202.32L109.48 202.54L109.73 202.76L109.98 202.98L110.23 203.20L110.48 203.41L110.73 203.62L110.98 203.83L111.23 204.03L111.48 204.22L111.73 204.42L111.98 204.62L112.24 204.81L112.49 205.01L112.74 205.20L112.99 205.39L113.24 205.58L113.49 205.76L113.74 205.95L113.99 206.13L114.24 206.30L114.49 206.48L114.75 206.65L115.00 206.81L115.25 206.97L115.50 207.13L115.75 207.28L116.00 207.43L116.25 207.57L116.50 207.70L116.75 207.83L117.00 207.96L117.25 208.09L117.51 208.22L117.76 208.35L118.01 208.47L118.26 208.58L118.51 208.69L118.76 208.80L119.01 208.90L119.26 208.99L119.51 209.07L119.76 209.14L120.02 209.20L120.27 209.26L120.52 209.32L120.77 209.37L121.02 209.43L121.27 209.48L121.52 209.53L121.77 209.57L122.02 209.61L122.27 209.64L122.52 209.67L122.78 209.69L123.03 209.70L123.28 209.70L123.53 209.69L123.78 209.67L124.03 209.64L124.28 209.60L124.53 209.56L124.78 209.51L125.03 209.45L125.28 209.39L125.54 209.33L125.79 209.26L126.04 209.19L126.29 209.11L126.54 209.01L126.79 208.90L127.04 208.77L127.29 208.62L127.54 208.47L127.79 208.30L128.05 208.12L128.30 207.93L128.55 207.73L128.80 207.51L129.05 207.27L129.30 206.98L129.55 206.67L129.80 206.32L130.05 205.95L130.30 205.56L130.55 205.15L130.81 204.73L131.06 204.30L131.31 203.87L131.56 203.44L131.81 203.01L132.06 202.57L132.31 202.10L132.56 201.61L132.81 201.11L133.06 200.60L133.32 200.08L133.57 199.55L133.82 199.02L134.07 198.50L134.32 197.98L134.57 197.46L134.82 196.96L135.07 196.44L135.32 195.92L135.57 195.40L135.82 194.87L136.08 194.34L136.33 193.82L136.58 193.31L136.83 192.81L137.08 192.32L137.33 191.85L137.58 191.40L137.83 190.98L138.08 190.56L138.33 190.15L138.58 189.75L138.84 189.35L139.09 188.97L139.34 188.60L139.59 188.24L139.84 187.89L140.09 187.55L140.34 187.23L140.59 186.93L140.84 186.63L141.09 186.35L141.35 186.07L141.60 185.79L141.85 185.52L142.10 185.26L142.35 185.00L142.60 184.76L142.85 184.52L143.10 184.29L143.35 184.07L143.60 183.86L143.85 183.66L144.11 183.47L144.36 183.30L144.61 183.13L144.86 182.97L145.11 182.82L145.36 182.66L145.61 182.52L145.86 182.37L146.11 182.24L146.36 182.10L146.62 181.97L146.87 181.85L147.12 181.73L147.37 181.62L147.62 181.51L147.87 181.40L148.12 181.30L148.37 181.21L148.62 181.12L148.87 181.04L149.12 180.96L149.38 180.89L149.63 180.81L149.88 180.74L150.13 180.67L150.38 180.60L150.63 180.53L150.88 180.47L151.13 180.40L151.38 180.34L151.63 180.28L151.88 180.22L152.14 180.17L152.39 180.11L152.64 180.06L152.89 180.01L153.14 179.97L153.39 179.92L153.64 179.88L153.89 179.84L154.14 179.80L154.39 179.77L154.65 179.74L154.90 179.71L155.15 179.69L155.40 179.66L155.65 179.63L155.90 179.61L156.15 179.58L156.40 179.56L156.65 179.54L156.90 179.51L157.15 179.49L157.41 179.47L157.66 179.45L157.91 179.43L158.16 179.41L158.41 179.39L158.66 179.38L158.91 179.36L159.16 179.35L159.41 179.34L159.66 179.33L159.92 179.32L160.17 179.31L160.42 179.31L160.67 179.30L160.92 179.30L161.17 179.30L161.42 179.32L161.67 179.35L161.92 179.40L162.17 179.46L162.42 179.52L162.68 179.60L162.93 179.69L163.18 179.78L163.43 179.87L163.68 179.98L163.93 180.13L164.18 180.32L164.43 180.54L164.68 180.80L164.93 181.09L165.18 181.41L165.44 181.76L165.69 182.13L165.94 182.54L166.19 183.11L166.44 183.78L166.69 184.51L166.94 185.24L167.19 185.96L167.44 186.74L167.69 187.54L167.95 188.27L168.20 188.89L168.45 189.41L168.70 189.87L168.95 190.27L169.20 190.60" stroke="#80400a" stroke-width="2.15" fill="none" stroke-linejoin="round" stroke-dasharray="1.95 0.6" clip-path="url(#c2)"/>
<path d="M49.50 178.00L49.75 178.00L50.00 178.01L50.25 178.01L50.50 178.01L50.75 178.02L51.01 178.02L51.26 178.03L51.51 178.04L51.76 178.04L52.01 178.05L52.26 178.06L52.51 178.07L52.76 178.08L53.01 178.09L53.26 178.10L53.52 178.11L53.77 178.12L54.02 178.14L54.27 178.15L54.52 178.16L54.77 178.18L55.02 178.19L55.27 178.20L55.52 178.22L55.77 178.24L56.02 178.25L56.28 178.27L56.53 178.28L56.78 178.30L57.03 178.32L57.28 178.34L57.53 178.35L57.78 178.37L58.03 178.39L58.28 178.41L58.53 178.43L58.78 178.45L59.04 178.47L59.29 178.49L59.54 178.51L59.79 178.53L60.04 178.55L60.29 178.57L60.54 178.59L60.79 178.61L61.04 178.63L61.29 178.65L61.55 178.67L61.80 178.70L62.05 178.72L62.30 178.74L62.55 178.76L62.80 178.78L63.05 178.80L63.30 178.83L63.55 178.85L63.80 178.88L64.05 178.90L64.31 178.93L64.56 178.95L64.81 178.98L65.06 179.01L65.31 179.04L65.56 179.07L65.81 179.11L66.06 179.14L66.31 179.17L66.56 179.21L66.82 179.24L67.07 179.28L67.32 179.31L67.57 179.35L67.82 179.39L68.07 179.43L68.32 179.47L68.57 179.51L68.82 179.55L69.07 179.59L69.32 179.63L69.58 179.68L69.83 179.72L70.08 179.76L70.33 179.81L70.58 179.85L70.83 179.90L71.08 179.94L71.33 179.99L71.58 180.03L71.83 180.08L72.08 180.13L72.34 180.18L72.59 180.22L72.84 180.27L73.09 180.32L73.34 180.37L73.59 180.42L73.84 180.47L74.09 180.52L74.34 180.57L74.59 180.62L74.85 180.67L75.10 180.72L75.35 180.77L75.60 180.82L75.85 180.87L76.10 180.92L76.35 180.97L76.60 181.02L76.85 181.07L77.10 181.12L77.35 181.18L77.61 181.23L77.86 181.28L78.11 181.34L78.36 181.39L78.61 181.45L78.86 181.51L79.11 181.57L79.36 181.62L79.61 181.68L79.86 181.74L80.12 181.81L80.37 181.87L80.62 181.93L80.87 181.99L81.12 182.06L81.37 182.12L81.62 182.19L81.87 182.25L82.12 182.32L82.37 182.39L82.62 182.46L82.88 182.53L83.13 182.60L83.38 182.67L83.63 182.74L83.88 182.81L84.13 182.88L84.38 182.96L84.63 183.03L84.88 183.11L85.13 183.19L85.38 183.26L85.64 183.34L85.89 183.42L86.14 183.50L86.39 183.58L86.64 183.66L86.89 183.75L87.14 183.83L87.39 183.91L87.64 184.00L87.89 184.09L88.15 184.17L88.40 184.26L88.65 184.35L88.90 184.45L89.15 184.54L89.40 184.63L89.65 184.73L89.90 184.83L90.15 184.93L90.40 185.03L90.65 185.13L90.91 185.24L91.16 185.34L91.41 185.45L91.66 185.56L91.91 185.67L92.16 185.79L92.41 185.91L92.66 186.02L92.91 186.15L93.16 186.27L93.42 186.40L93.67 186.52L93.92 186.66L94.17 186.79L94.42 186.93L94.67 187.08L94.92 187.24L95.17 187.40L95.42 187.57L95.67 187.74L95.92 187.92L96.18 188.11L96.43 188.30L96.68 188.49L96.93 188.68L97.18 188.88L97.43 189.08L97.68 189.29L97.93 189.49L98.18 189.70L98.43 189.91L98.68 190.12L98.94 190.32L99.19 190.53L99.44 190.74L99.69 190.95L99.94 191.15L100.19 191.36L100.44 191.57L100.69 191.78L100.94 192.00L101.19 192.22L101.45 192.44L101.70 192.67L101.95 192.90L102.20 193.13L102.45 193.36L102.70 193.59L102.95 193.82L103.20 194.06L103.45 194.29L103.70 194.52L103.95 194.75L104.21 194.97L104.46 195.20L104.71 195.42L104.96 195.64L105.21 195.85L105.46 196.06L105.71 196.27L105.96 196.47L106.21 196.67L106.46 196.86L106.72 197.06L106.97 197.26L107.22 197.45L107.47 197.64L107.72 197.83L107.97 198.02L108.22 198.21L108.47 198.40L108.72 198.58L108.97 198.76L109.22 198.94L109.48 199.11L109.73 199.28L109.98 199.45L110.23 199.61L110.48 199.77L110.73 199.92L110.98 200.07L111.23 200.22L111.48 200.36L111.73 200.50L111.98 200.64L112.24 200.78L112.49 200.92L112.74 201.05L112.99 201.18L113.24 201.30L113.49 201.42L113.74 201.53L113.99 201.63L114.24 201.72L114.49 201.80L114.75 201.87L115.00 201.95L115.25 202.03L115.50 202.10L115.75 202.18L116.00 202.24L116.25 202.29L116.50 202.34L116.75 202.37L117.00 202.39L117.25 202.40L117.51 202.38L117.76 202.35L118.01 202.30L118.26 202.23L118.51 202.16L118.76 202.08L119.01 202.00L119.26 201.89L119.51 201.76L119.76 201.60L120.02 201.42L120.27 201.22L120.52 201.01L120.77 200.80L121.02 200.58L121.27 200.36L121.52 200.13L121.77 199.89L122.02 199.64L122.27 199.38L122.52 199.11L122.78 198.83L123.03 198.54L123.28 198.24L123.53 197.93L123.78 197.61L124.03 197.29L124.28 196.96L124.53 196.63L124.78 196.29L125.03 195.92L125.28 195.54L125.54 195.14L125.79 194.72L126.04 194.29L126.29 193.85L126.54 193.41L126.79 192.95L127.04 192.50L127.29 192.05L127.54 191.60L127.79 191.16L128.05 190.72L128.30 190.28L128.55 189.82L128.80 189.36L129.05 188.89L129.30 188.42L129.55 187.96L129.80 187.50L130.05 187.06L130.30 186.64L130.55 186.24L130.81 185.87L131.06 185.53L131.31 185.20L131.56 184.88L131.81 184.57L132.06 184.26L132.31 183.97L132.56 183.69L132.81 183.43L133.06 183.18L133.32 182.95L133.57 182.73L133.82 182.53L134.07 182.35L134.32 182.19L134.57 182.02L134.82 181.87L135.07 181.72L135.32 181.57L135.57 181.43L135.82 181.30L136.08 181.17L136.33 181.05L136.58 180.93L136.83 180.82L137.08 180.71L137.33 180.61L137.58 180.51L137.83 180.42L138.08 180.33L138.33 180.25L138.58 180.17L138.84 180.10L139.09 180.02L139.34 179.95L139.59 179.88L139.84 179.81L140.09 179.74L140.34 179.67L140.59 179.61L140.84 179.54L141.09 179.48L141.35 179.42L141.60 179.36L141.85 179.31L142.10 179.26L142.35 179.21L142.60 179.16L142.85 179.12L143.10 179.07L143.35 179.04L143.60 179.00L143.85 178.97L144.11 178.94L144.36 178.91L144.61 178.89L144.86 178.87L145.11 178.85L145.36 178.83L145.61 178.81L145.86 178.79L146.11 178.77L146.36 178.75L146.62 178.73L146.87 178.71L147.12 178.69L147.37 178.67L147.62 178.66L147.87 178.64L148.12 178.63L148.37 178.61L148.62 178.60L148.87 178.58L149.12 178.57L149.38 178.56L149.63 178.55L149.88 178.54L150.13 178.53L150.38 178.52L150.63 178.52L150.88 178.51L151.13 178.51L151.38 178.50L151.63 178.50L151.88 178.50L152.14 178.50L152.39 178.50L152.64 178.50L152.89 178.50L153.14 178.50L153.39 178.50L153.64 178.50L153.89 178.51L154.14 178.51L154.39 178.51L154.65 178.51L154.90 178.51L155.15 178.52L155.40 178.52L155.65 178.52L155.90 178.53L156.15 178.53L156.40 178.53L156.65 178.54L156.90 178.54L157.15 178.55L157.41 178.55L157.66 178.56L157.91 178.56L158.16 178.57L158.41 178.57L158.66 178.58L158.91 178.58L159.16 178.59L159.41 178.60L159.66 178.61L159.92 178.62L160.17 178.65L160.42 178.68L160.67 178.73L160.92 178.78L161.17 178.83L161.42 178.90L161.67 178.96L161.92 179.04L162.17 179.12L162.42 179.21L162.68 179.30L162.93 179.39L163.18 179.49L163.43 179.60L163.68 179.74L163.93 179.91L164.18 180.11L164.43 180.33L164.68 180.58L164.93 180.85L165.18 181.15L165.44 181.48L165.69 181.83L165.94 182.24L166.19 182.82L166.44 183.52L166.69 184.29L166.94 185.03L167.19 185.76L167.44 186.55L167.69 187.34L167.95 188.08L168.20 188.69L168.45 189.21L168.70 189.67L168.95 190.07L169.20 190.40M159.50 177.77L159.75 177.78L160.01 177.80L160.26 177.83L160.51 177.88L160.77 177.94L161.02 178.01L161.27 178.09L161.53 178.18L161.78 178.28L162.03 178.39L162.29 178.50L162.54 178.62L162.79 178.74L163.05 178.87L163.30 179.00L163.55 179.15L163.81 179.34L164.06 179.56L164.31 179.80L164.57 180.08L164.82 180.38L165.07 180.71L165.33 181.08L165.58 181.47L165.83 181.89L166.09 182.47L166.34 183.21L166.59 184.04L166.85 184.88L167.10 185.67L167.35 186.49L167.60 187.32L167.86 188.12L168.11 188.80L168.36 189.38L168.62 189.96L168.87 190.44L169.12 190.70L169.38 190.65L169.63 190.38L169.88 189.98L170.14 189.54L170.39 189.05L170.64 188.41L170.90 187.70L171.15 187.03L171.40 186.48L171.66 186.12L171.91 185.80L172.16 185.50L172.42 185.22L172.67 184.97L172.92 184.74L173.18 184.52L173.43 184.33L173.68 184.14L173.94 183.98L174.19 183.82L174.44 183.68L174.70 183.55L174.95 183.43L175.20 183.31L175.46 183.19L175.71 183.08L175.96 182.97L176.22 182.87L176.47 182.77L176.72 182.68L176.98 182.60L177.23 182.51L177.48 182.43L177.74 182.36L177.99 182.29L178.24 182.22L178.50 182.16L178.75 182.10L179.00 182.05L179.26 182.00L179.51 181.94L179.76 181.89L180.02 181.84L180.27 181.79L180.52 181.74L180.78 181.69L181.03 181.64L181.28 181.59L181.54 181.55L181.79 181.51L182.04 181.47L182.30 181.44L182.55 181.40L182.80 181.38L183.05 181.35L183.31 181.33L183.56 181.32L183.81 181.31L184.07 181.30L184.32 181.30L184.57 181.34L184.83 181.40L185.08 181.48L185.33 181.59L185.59 181.72L185.84 181.94L186.09 182.32L186.35 182.80L186.60 183.34L186.85 184.03L187.11 184.89L187.36 185.93L187.61 187.34L187.87 189.26L188.12 191.53L188.37 194.37L188.63 197.59L188.88 200.92L189.13 204.07L189.39 206.99L189.64 209.84L189.89 212.28L190.15 214.21L190.40 215.75L190.66 214.12L190.91 212.24L191.17 209.91L191.42 207.34L191.68 205.00L191.94 203.03L192.19 201.13L192.45 199.34L192.70 197.72L192.96 196.30L193.21 195.15L193.47 194.17L193.73 193.25L193.98 192.41L194.24 191.63L194.49 190.92L194.75 190.28L195.01 189.71L195.26 189.20L195.52 188.76L195.77 188.37L196.03 188.01L196.29 187.67L196.54 187.36L196.80 187.08L197.05 186.81L197.31 186.56L197.56 186.33L197.82 186.11L198.08 185.89L198.33 185.69L198.59 185.49L198.84 185.30L199.10 185.12L199.36 184.95L199.61 184.78L199.87 184.62L200.12 184.46L200.38 184.31L200.64 184.16L200.89 184.02L201.15 183.88L201.40 183.74L201.66 183.61L201.91 183.47L202.17 183.34L202.43 183.21L202.68 183.08L202.94 182.94L203.19 182.80L203.45 182.66L203.71 182.52L203.96 182.38L204.22 182.25L204.47 182.11L204.73 181.98L204.99 181.85L205.24 181.73L205.50 181.62L205.75 181.52" stroke="#ff0000" stroke-width="2.15" fill="none" stroke-linejoin="round" stroke-dasharray="1.45 0.85" clip-path="url(#c2)"/>
<path d="M49.50 174.70L49.75 174.70L50.00 174.70L50.25 174.70L50.50 174.70L50.75 174.70L51.00 174.71L51.25 174.71L51.50 174.71L51.76 174.72L52.01 174.72L52.26 174.72L52.51 174.73L52.76 174.73L53.01 174.74L53.26 174.74L53.51 174.75L53.76 174.75L54.01 174.76L54.26 174.76L54.51 174.77L54.76 174.78L55.01 174.78L55.26 174.79L55.51 174.80L55.76 174.81L56.01 174.81L56.27 174.82L56.52 174.83L56.77 174.84L57.02 174.85L57.27 174.86L57.52 174.87L57.77 174.87L58.02 174.88L58.27 174.89L58.52 174.90L58.77 174.91L59.02 174.92L59.27 174.93L59.52 174.94L59.77 174.95L60.02 174.97L60.27 174.98L60.53 174.99L60.78 175.00L61.03 175.01L61.28 175.02L61.53 175.03L61.78 175.04L62.03 175.05L62.28 175.07L62.53 175.08L62.78 175.09L63.03 175.10L63.28 175.11L63.53 175.13L63.78 175.14L64.03 175.16L64.28 175.17L64.53 175.19L64.78 175.20L65.04 175.22L65.29 175.24L65.54 175.26L65.79 175.28L66.04 175.30L66.29 175.32L66.54 175.34L66.79 175.36L67.04 175.39L67.29 175.41L67.54 175.43L67.79 175.46L68.04 175.49L68.29 175.51L68.54 175.54L68.79 175.56L69.04 175.59L69.29 175.62L69.55 175.65L69.80 175.68L70.05 175.71L70.30 175.74L70.55 175.77L70.80 175.80L71.05 175.83L71.30 175.86L71.55 175.90L71.80 175.93L72.05 175.96L72.30 176.00L72.55 176.03L72.80 176.06L73.05 176.10L73.30 176.13L73.55 176.17L73.81 176.20L74.06 176.24L74.31 176.27L74.56 176.31L74.81 176.35L75.06 176.38L75.31 176.42L75.56 176.46L75.81 176.50L76.06 176.53L76.31 176.57L76.56 176.61L76.81 176.65L77.06 176.69L77.31 176.73L77.56 176.77L77.81 176.82L78.06 176.86L78.32 176.91L78.57 176.96L78.82 177.00L79.07 177.05L79.32 177.10L79.57 177.15L79.82 177.21L80.07 177.26L80.32 177.32L80.57 177.37L80.82 177.43L81.07 177.48L81.32 177.54L81.57 177.60L81.82 177.66L82.07 177.72L82.32 177.78L82.58 177.84L82.83 177.90L83.08 177.97L83.33 178.03L83.58 178.09L83.83 178.16L84.08 178.22L84.33 178.29L84.58 178.35L84.83 178.42L85.08 178.49L85.33 178.55L85.58 178.62L85.83 178.69L86.08 178.76L86.33 178.83L86.58 178.90L86.83 178.98L87.09 179.05L87.34 179.13L87.59 179.20L87.84 179.28L88.09 179.36L88.34 179.44L88.59 179.52L88.84 179.60L89.09 179.68L89.34 179.77L89.59 179.85L89.84 179.94L90.09 180.03L90.34 180.11L90.59 180.20L90.84 180.29L91.09 180.38L91.35 180.47L91.60 180.57L91.85 180.66L92.10 180.76L92.35 180.85L92.60 180.95L92.85 181.04L93.10 181.14L93.35 181.24L93.60 181.34L93.85 181.44L94.10 181.54L94.35 181.65L94.60 181.75L94.85 181.86L95.10 181.97L95.35 182.09L95.60 182.20L95.86 182.32L96.11 182.44L96.36 182.57L96.61 182.69L96.86 182.81L97.11 182.94L97.36 183.06L97.61 183.19L97.86 183.32L98.11 183.45L98.36 183.57L98.61 183.70L98.86 183.83L99.11 183.96L99.36 184.08L99.61 184.21L99.86 184.33L100.12 184.46L100.37 184.58L100.62 184.71L100.87 184.83L101.12 184.96L101.37 185.09L101.62 185.22L101.87 185.35L102.12 185.48L102.37 185.61L102.62 185.74L102.87 185.87L103.12 186.00L103.37 186.13L103.62 186.26L103.87 186.39L104.12 186.51L104.37 186.64L104.63 186.76L104.88 186.88L105.13 187.00L105.38 187.12L105.63 187.23L105.88 187.35L106.13 187.46L106.38 187.57L106.63 187.68L106.88 187.80L107.13 187.91L107.38 188.02L107.63 188.13L107.88 188.23L108.13 188.33L108.38 188.42L108.63 188.50L108.88 188.57L109.14 188.63L109.39 188.70L109.64 188.76L109.89 188.82L110.14 188.88L110.39 188.92L110.64 188.96L110.89 188.99L111.14 189.00L111.39 189.00L111.64 188.97L111.89 188.94L112.14 188.90L112.39 188.85L112.64 188.79L112.89 188.73L113.14 188.66L113.40 188.57L113.65 188.47L113.90 188.35L114.15 188.21L114.40 188.07L114.65 187.92L114.90 187.76L115.15 187.60L115.40 187.43L115.65 187.25L115.90 187.05L116.15 186.83L116.40 186.61L116.65 186.38L116.90 186.15L117.15 185.91L117.40 185.66L117.65 185.41L117.91 185.17L118.16 184.92L118.41 184.68L118.66 184.44L118.91 184.21L119.16 183.99L119.41 183.78L119.66 183.57L119.91 183.36L120.16 183.15L120.41 182.94L120.66 182.73L120.91 182.52L121.16 182.31L121.41 182.11L121.66 181.90L121.91 181.70L122.17 181.51L122.42 181.32L122.67 181.14L122.92 180.96L123.17 180.79L123.42 180.63L123.67 180.48L123.92 180.34L124.17 180.21L124.42 180.08L124.67 179.96L124.92 179.84L125.17 179.72L125.42 179.61L125.67 179.50L125.92 179.39L126.17 179.29L126.42 179.19L126.68 179.09L126.93 179.00L127.18 178.91L127.43 178.82L127.68 178.74L127.93 178.66L128.18 178.59L128.43 178.52L128.68 178.45L128.93 178.39L129.18 178.32L129.43 178.26L129.68 178.20L129.93 178.14L130.18 178.09L130.43 178.03L130.68 177.98L130.94 177.93L131.19 177.88L131.44 177.83L131.69 177.79L131.94 177.75L132.19 177.71L132.44 177.67L132.69 177.64L132.94 177.61L133.19 177.58L133.44 177.55L133.69 177.52L133.94 177.50L134.19 177.47L134.44 177.45L134.69 177.43L134.94 177.41L135.19 177.39L135.45 177.37L135.70 177.35L135.95 177.33L136.20 177.31L136.45 177.29L136.70 177.28L136.95 177.26L137.20 177.25L137.45 177.23L137.70 177.22L137.95 177.20L138.20 177.19L138.45 177.18L138.70 177.16L138.95 177.15L139.20 177.13L139.45 177.12L139.71 177.11L139.96 177.09L140.21 177.08L140.46 177.07L140.71 177.06L140.96 177.05L141.21 177.04L141.46 177.03L141.71 177.02L141.96 177.01L142.21 177.01L142.46 177.00L142.71 177.00L142.96 177.00L143.21 177.00L143.46 177.00L143.71 177.00L143.96 177.01L144.22 177.01L144.47 177.01L144.72 177.02L144.97 177.02L145.22 177.03L145.47 177.04L145.72 177.04L145.97 177.05L146.22 177.06L146.47 177.07L146.72 177.07L146.97 177.08L147.22 177.09L147.47 177.10L147.72 177.11L147.97 177.12L148.22 177.13L148.47 177.14L148.73 177.16L148.98 177.17L149.23 177.18L149.48 177.19L149.73 177.20L149.98 177.21L150.23 177.22L150.48 177.23L150.73 177.25L150.98 177.26L151.23 177.27L151.48 177.28L151.73 177.29L151.98 177.30L152.23 177.31L152.48 177.32L152.73 177.33L152.99 177.34L153.24 177.35L153.49 177.37L153.74 177.38L153.99 177.39L154.24 177.40L154.49 177.41L154.74 177.43L154.99 177.44L155.24 177.45L155.49 177.47L155.74 177.48L155.99 177.49L156.24 177.51L156.49 177.52L156.74 177.54L156.99 177.55L157.24 177.56L157.50 177.58L157.75 177.59L158.00 177.61L158.25 177.62L158.50 177.64L158.75 177.65L159.00 177.67L159.25 177.68L159.50 177.70L159.75 177.71L160.01 177.73L160.26 177.76L160.51 177.81L160.77 177.86L161.02 177.93L161.27 178.00L161.53 178.09L161.78 178.18L162.03 178.28L162.29 178.38L162.54 178.49L162.79 178.61L163.05 178.73L163.30 178.85L163.55 179.00L163.81 179.17L164.06 179.37L164.31 179.60L164.57 179.86L164.82 180.14L165.07 180.45L165.33 180.79L165.58 181.16L165.83 181.55L166.09 182.09L166.34 182.79L166.59 183.56L166.85 184.35L167.10 185.08L167.35 185.85L167.60 186.63L167.86 187.37L168.11 188.01L168.36 188.55L168.62 189.09L168.87 189.54L169.12 189.78L169.38 189.74L169.63 189.49L169.88 189.11L170.14 188.70L170.39 188.25L170.64 187.65L170.90 186.98L171.15 186.35L171.40 185.84L171.66 185.50L171.91 185.20L172.16 184.92L172.42 184.67L172.67 184.43L172.92 184.21L173.18 184.01L173.43 183.83L173.68 183.66L173.94 183.50L174.19 183.36L174.44 183.23L174.70 183.11L174.95 182.99L175.20 182.87L175.46 182.77L175.71 182.66L175.96 182.56L176.22 182.47L176.47 182.38L176.72 182.29L176.98 182.21L177.23 182.13L177.48 182.06L177.74 181.99L177.99 181.92L178.24 181.86L178.50 181.80L178.75 181.75L179.00 181.70L179.26 181.65L179.51 181.60L179.76 181.55L180.02 181.50L180.27 181.45L180.52 181.41L180.78 181.36L181.03 181.32L181.28 181.27L181.54 181.23L181.79 181.20L182.04 181.16L182.30 181.13L182.55 181.10L182.80 181.07L183.05 181.05L183.31 181.03L183.56 181.02L183.81 181.01L184.07 181.00L184.32 181.00L184.57 181.03L184.83 181.09L185.08 181.17L185.33 181.27L185.59 181.39L185.84 181.60L186.09 181.95L186.35 182.40L186.60 182.91L186.85 183.55L187.11 184.35L187.36 185.33L187.61 186.65L187.87 188.44L188.12 190.56L188.37 193.21L188.63 196.22L188.88 199.33L189.13 202.28L189.39 205.01L189.64 207.67L189.89 209.95L190.15 211.75L190.40 213.20L190.66 211.68L190.91 209.91L191.17 207.74L191.42 205.33L191.68 203.15L191.94 201.31L192.19 199.53L192.45 197.86L192.70 196.34L192.96 195.02L193.21 193.95L193.47 193.02L193.73 192.17L193.98 191.38L194.24 190.65L194.49 189.99L194.75 189.39L195.01 188.86L195.26 188.38L195.52 187.97L195.77 187.61L196.03 187.27L196.29 186.96L196.54 186.67L196.80 186.40L197.05 186.15L197.31 185.92L197.56 185.70L197.82 185.49L198.08 185.29L198.33 185.10L198.59 184.92L198.84 184.74L199.10 184.57L199.36 184.41L199.61 184.25L199.87 184.10L200.12 183.95L200.38 183.81L200.64 183.68L200.89 183.54L201.15 183.41L201.40 183.28L201.66 183.16L201.91 183.03L202.17 182.91L202.43 182.78L202.68 182.66L202.94 182.53L203.19 182.40L203.45 182.27L203.71 182.14L203.96 182.01L204.22 181.88L204.47 181.76L204.73 181.63L204.99 181.52L205.24 181.41L205.50 181.30L205.75 181.20L206.01 181.12L206.26 181.04L206.52 180.97L206.78 180.92L207.03 180.88L207.29 180.85L207.54 180.82L207.80 180.80L208.09 182.85L208.37 187.48L208.66 197.53L208.94 206.77L209.23 214.49L209.51 219.86L209.80 223.60L210.05 222.80L210.30 221.56L210.55 219.83L210.80 217.20L211.06 214.50L211.31 212.58L211.56 211.00L211.81 209.54L212.06 208.21L212.31 206.98L212.56 205.84L212.81 204.77L213.06 203.77L213.32 202.81L213.57 201.89L213.82 201.00L214.07 200.14L214.32 199.32L214.57 198.54L214.82 197.82L215.07 197.16L215.33 196.57L215.58 196.05L215.83 195.57L216.08 195.12L216.33 194.70L216.58 194.33L216.83 194.02L217.08 193.78L217.33 193.62L217.59 193.48L217.84 193.37L218.09 193.31L218.34 193.32L218.59 193.43L218.84 193.61L219.09 193.86L219.34 194.14L219.59 194.49L219.85 195.03L220.10 195.68L220.35 196.40L220.60 197.10L220.85 197.84L221.10 198.70L221.35 199.61L221.60 200.53L221.85 201.38L222.11 202.11L222.36 202.68L222.61 203.04L222.86 203.33L223.11 203.54L223.36 203.59L223.61 203.47L223.86 203.24L224.11 202.99L224.37 202.83L224.62 202.84L224.87 203.14L225.12 203.62L225.37 204.16L225.62 204.90L225.87 205.84L226.12 206.85L226.38 207.81L226.63 208.71L226.88 209.63L227.13 210.57L227.38 211.51L227.63 212.42L227.88 213.31L228.13 214.14L228.38 214.91L228.64 215.59L228.89 216.23L229.14 216.86L229.39 217.47L229.64 218.06L229.89 218.62L230.14 219.16L230.39 219.68L230.64 220.17L230.90 220.63L231.15 221.05L231.40 221.45L231.65 221.80L231.90 222.12L232.15 222.43L232.40 222.72L232.65 223.00L232.90 223.27L233.16 223.52L233.41 223.77L233.66 224.00L233.91 224.22L234.16 224.44L234.41 224.64L234.66 224.84L234.91 225.03L235.16 225.21L235.42 225.39L235.67 225.56L235.92 225.72L236.17 225.88L236.42 226.03L236.67 226.18L236.92 226.33L237.17 226.47L237.43 226.60L237.68 226.74L237.93 226.86L238.18 226.99L238.43 227.11L238.68 227.23L238.93 227.34L239.18 227.46L239.43 227.57L239.69 227.68L239.94 227.78L240.19 227.89L240.44 227.99L240.69 228.10L240.94 228.20L241.19 228.30L241.44 228.40L241.69 228.50L241.95 228.60L242.20 228.70L242.45 228.80L242.70 228.90L242.95 229.00L243.20 229.10L243.45 229.20L243.70 229.29L243.95 229.39L244.21 229.48L244.46 229.57L244.71 229.67L244.96 229.76L245.21 229.85L245.46 229.94L245.71 230.02L245.96 230.11L246.21 230.20L246.47 230.29L246.72 230.37L246.97 230.46L247.22 230.54L247.47 230.63L247.72 230.72L247.97 230.80L248.22 230.89L248.47 230.97L248.73 231.06L248.98 231.14L249.23 231.23L249.48 231.32L249.73 231.41L249.98 231.49L250.23 231.58L250.48 231.67L250.74 231.75L250.99 231.84L251.24 231.93L251.49 232.01L251.74 232.10L251.99 232.18L252.24 232.27L252.49 232.35L252.74 232.44L253.00 232.53L253.25 232.62L253.50 232.71L253.75 232.80L254.00 232.90L254.25 233.00L254.50 233.10L254.75 233.20L255.00 233.30L255.26 233.40L255.51 233.50L255.76 233.61L256.01 233.71L256.26 233.82L256.51 233.93L256.76 234.03L257.01 234.14L257.26 234.25L257.52 234.36L257.77 234.47L258.02 234.59L258.27 234.70L258.52 234.81L258.77 234.93L259.02 235.04L259.27 235.15L259.52 235.27L259.78 235.38L260.03 235.50L260.28 235.61L260.53 235.73L260.78 235.84L261.03 235.96L261.28 236.07L261.53 236.19L261.79 236.30L262.04 236.42L262.29 236.53L262.54 236.65L262.79 236.76L263.04 236.88L263.29 236.99L263.54 237.11L263.79 237.23L264.05 237.34L264.30 237.46L264.55 237.58L264.80 237.70L265.05 237.82L265.30 237.94L265.55 238.06L265.80 238.17L266.05 238.29L266.31 238.41L266.56 238.53L266.81 238.65L267.06 238.78L267.31 238.90L267.56 239.02L267.81 239.14L268.06 239.26L268.31 239.38L268.57 239.50L268.82 239.62L269.07 239.75L269.32 239.87L269.57 239.99L269.82 240.11L270.07 240.24L270.32 240.36L270.57 240.48L270.83 240.60L271.08 240.73L271.33 240.85L271.58 240.97L271.83 241.10L272.08 241.22L272.33 241.34L272.58 241.47L272.84 241.59L273.09 241.72L273.34 241.84L273.59 241.96L273.84 242.09L274.09 242.21L274.34 242.34L274.59 242.47L274.84 242.59L275.10 242.72L275.35 242.84L275.60 242.97L275.85 243.10L276.10 243.23L276.35 243.35L276.60 243.48L276.85 243.61L277.10 243.74L277.36 243.87L277.61 244.00L277.86 244.13L278.11 244.26L278.36 244.39L278.61 244.52L278.86 244.65L279.11 244.78L279.36 244.91L279.62 245.04L279.87 245.17L280.12 245.31L280.37 245.44L280.62 245.57L280.87 245.71L281.12 245.84L281.37 245.97L281.62 246.11L281.88 246.24L282.13 246.38L282.38 246.51L282.63 246.65L282.88 246.78L283.13 246.92L283.38 247.05L283.63 247.19L283.89 247.33L284.14 247.47L284.39 247.60L284.64 247.74L284.89 247.88L285.14 248.02L285.39 248.16L285.64 248.30L285.89 248.44L286.15 248.58L286.40 248.72L286.65 248.86L286.90 249.01L287.15 249.15L287.40 249.29L287.65 249.43L287.90 249.58L288.15 249.72L288.41 249.87L288.66 250.01L288.91 250.16L289.16 250.30L289.41 250.45L289.66 250.60L289.91 250.75L290.16 250.89L290.41 251.04L290.67 251.19L290.92 251.34L291.17 251.49L291.42 251.65L291.67 251.80L291.92 251.95L292.17 252.11L292.42 252.26L292.67 252.42L292.93 252.57L293.18 252.73L293.43 252.89L293.68 253.04L293.93 253.20L294.18 253.36L294.43 253.52L294.68 253.68L294.94 253.84L295.19 254.01L295.44 254.17L295.69 254.33L295.94 254.50L296.19 254.66L296.44 254.83L296.69 254.99L296.94 255.16L297.20 255.33L297.45 255.49L297.70 255.66L297.95 255.83L298.20 256.00L298.20 153.90L316.00 163.50" stroke="#0000ff" stroke-width="2.15" fill="none" stroke-linejoin="round" clip-path="url(#c2)"/>
<rect x="49.50" y="1.50" width="266.00" height="120.60" fill="none" stroke="#5a5a5a" stroke-width="0.62"/>
<rect x="49.50" y="144.50" width="266.00" height="120.90" fill="none" stroke="#5a5a5a" stroke-width="0.62"/>
<rect x="54.10" y="5.60" width="67.80" height="40.70" fill="#fff" stroke="#4d4d4d" stroke-width="0.6"/>
<path d="M57.60 13.90h12.3" stroke="#80400a" stroke-width="1.8" stroke-dasharray="1.95 0.6"/>
<text transform="translate(76.60 18.10) scale(1.000 0.900)" font-size="12.2" text-anchor="start"><tspan font-style="italic">β</tspan></text>
<text transform="translate(83.20 20.20) scale(1.000 1.000)" font-size="9.0" text-anchor="start">2</text>
<text transform="translate(91.00 18.00) scale(1.000 1.000)" font-size="12.7" text-anchor="start">=</text>
<text transform="translate(103.00 18.00) scale(1.000 1.000)" font-size="12.7" text-anchor="start">1.0</text>
<path d="M57.60 26.35h12.3" stroke="#ff0000" stroke-width="1.8" stroke-dasharray="1.7 0.85"/>
<text transform="translate(76.60 30.55) scale(1.000 0.900)" font-size="12.2" text-anchor="start"><tspan font-style="italic">β</tspan></text>
<text transform="translate(83.20 32.65) scale(1.000 1.000)" font-size="9.0" text-anchor="start">2</text>
<text transform="translate(91.00 30.45) scale(1.000 1.000)" font-size="12.7" text-anchor="start">=</text>
<text transform="translate(103.00 30.45) scale(1.000 1.000)" font-size="12.7" text-anchor="start">0.5</text>
<path d="M57.60 38.80h12.3" stroke="#0000ff" stroke-width="1.8"/>
<text transform="translate(76.60 43.00) scale(1.000 0.900)" font-size="12.2" text-anchor="start"><tspan font-style="italic">β</tspan></text>
<text transform="translate(83.20 45.10) scale(1.000 1.000)" font-size="9.0" text-anchor="start">2</text>
<text transform="translate(91.00 42.90) scale(1.000 1.000)" font-size="12.7" text-anchor="start">=</text>
<text transform="translate(103.00 42.90) scale(1.000 1.000)" font-size="12.7" text-anchor="start">0.2</text>
<rect x="54.10" y="219.70" width="67.80" height="40.70" fill="#fff" stroke="#4d4d4d" stroke-width="0.6"/>
<path d="M57.60 228.00h12.3" stroke="#80400a" stroke-width="1.8" stroke-dasharray="1.95 0.6"/>
<text transform="translate(76.60 232.20) scale(1.000 0.900)" font-size="12.2" text-anchor="start"><tspan font-style="italic">β</tspan></text>
<text transform="translate(83.20 234.30) scale(1.000 1.000)" font-size="9.0" text-anchor="start">2</text>
<text transform="translate(91.00 232.10) scale(1.000 1.000)" font-size="12.7" text-anchor="start">=</text>
<text transform="translate(103.00 232.10) scale(1.000 1.000)" font-size="12.7" text-anchor="start">1.0</text>
<path d="M57.60 240.45h12.3" stroke="#ff0000" stroke-width="1.8" stroke-dasharray="1.7 0.85"/>
<text transform="translate(76.60 244.65) scale(1.000 0.900)" font-size="12.2" text-anchor="start"><tspan font-style="italic">β</tspan></text>
<text transform="translate(83.20 246.75) scale(1.000 1.000)" font-size="9.0" text-anchor="start">2</text>
<text transform="translate(91.00 244.55) scale(1.000 1.000)" font-size="12.7" text-anchor="start">=</text>
<text transform="translate(103.00 244.55) scale(1.000 1.000)" font-size="12.7" text-anchor="start">0.5</text>
<path d="M57.60 252.90h12.3" stroke="#0000ff" stroke-width="1.8"/>
<text transform="translate(76.60 257.10) scale(1.000 0.900)" font-size="12.2" text-anchor="start"><tspan font-style="italic">β</tspan></text>
<text transform="translate(83.20 259.20) scale(1.000 1.000)" font-size="9.0" text-anchor="start">2</text>
<text transform="translate(91.00 257.00) scale(1.000 1.000)" font-size="12.7" text-anchor="start">=</text>
<text transform="translate(103.00 257.00) scale(1.000 1.000)" font-size="12.7" text-anchor="start">0.2</text>
<text transform="translate(46.80 35.90) scale(1.000 1.000)" font-size="12.7" text-anchor="end">−20</text>
<text transform="translate(46.80 72.20) scale(1.000 1.000)" font-size="12.7" text-anchor="end">−40</text>
<text transform="translate(46.80 108.50) scale(1.000 1.000)" font-size="12.7" text-anchor="end">−60</text>
<text transform="translate(46.80 159.00) scale(1.000 1.000)" font-size="12.7" text-anchor="end">180</text>
<text transform="translate(46.80 184.20) scale(1.000 1.000)" font-size="12.7" text-anchor="end">90</text>
<text transform="translate(46.80 209.40) scale(1.000 1.000)" font-size="12.7" text-anchor="end">0</text>
<text transform="translate(46.80 234.60) scale(1.000 1.000)" font-size="12.7" text-anchor="end">−90</text>
<text transform="translate(46.80 259.80) scale(1.000 1.000)" font-size="12.7" text-anchor="end">−180</text>
<text transform="translate(38.16 135.30) scale(1.000 1.000)" font-size="12.7" text-anchor="start">10</text>
<text transform="translate(50.66 130.50) scale(1.000 1.000)" font-size="9.0" text-anchor="start">−2</text>
<text transform="translate(126.83 135.30) scale(1.000 1.000)" font-size="12.7" text-anchor="start">10</text>
<text transform="translate(139.33 130.50) scale(1.000 1.000)" font-size="9.0" text-anchor="start">−1</text>
<text transform="translate(218.03 135.30) scale(1.000 1.000)" font-size="12.7" text-anchor="start">10</text>
<text transform="translate(230.53 130.50) scale(1.000 1.000)" font-size="9.0" text-anchor="start">0</text>
<text transform="translate(306.70 135.30) scale(1.000 1.000)" font-size="12.7" text-anchor="start">10</text>
<text transform="translate(319.20 130.50) scale(1.000 1.000)" font-size="9.0" text-anchor="start">1</text>
<text transform="translate(38.16 278.60) scale(1.000 1.000)" font-size="12.7" text-anchor="start">10</text>
<text transform="translate(50.66 273.80) scale(1.000 1.000)" font-size="9.0" text-anchor="start">−2</text>
<text transform="translate(126.83 278.60) scale(1.000 1.000)" font-size="12.7" text-anchor="start">10</text>
<text transform="translate(139.33 273.80) scale(1.000 1.000)" font-size="9.0" text-anchor="start">−1</text>
<text transform="translate(218.03 278.60) scale(1.000 1.000)" font-size="12.7" text-anchor="start">10</text>
<text transform="translate(230.53 273.80) scale(1.000 1.000)" font-size="9.0" text-anchor="start">0</text>
<text transform="translate(306.70 278.60) scale(1.000 1.000)" font-size="12.7" text-anchor="start">10</text>
<text transform="translate(319.20 273.80) scale(1.000 1.000)" font-size="9.0" text-anchor="start">1</text>
<text transform="translate(182.60 293.20) scale(0.970 1.000)" font-size="12.7" text-anchor="middle">Frequency (Hz)</text>
<text transform="translate(12.50 61.00) rotate(-90) scale(1.000 1.000)" font-size="12.7" text-anchor="middle">Magnitude (dB)</text>
<text transform="translate(12.50 204.60) rotate(-90) scale(1.000 1.000)" font-size="12.7" text-anchor="middle">Phase (deg)</text>
</svg>
</body></html>
